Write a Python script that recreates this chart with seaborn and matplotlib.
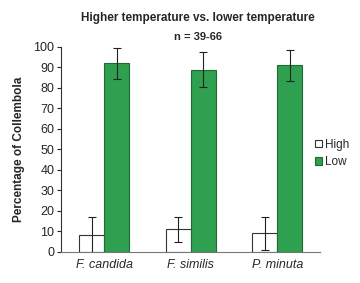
import numpy as np
import pandas as pd
import matplotlib
matplotlib.use('Agg')
import matplotlib.pyplot as plt
import seaborn as sns

species = ['F. candida', 'F. similis', 'P. minuta']
high = [8, 11, 9]
low = [92, 89, 91]
high_err = [9, 6, 8]
low_err = [7.5, 8.5, 7.5]

df = pd.DataFrame({
    'species': species * 2,
    'temp': ['High'] * 3 + ['Low'] * 3,
    'pct': high + low,
})

sns.set_style('white')
plt.rcParams['font.family'] = ['Liberation Sans', 'DejaVu Sans']

fig = plt.figure(figsize=(3.6, 2.83), dpi=100)
ax = fig.add_axes([0.17, 0.11, 0.72, 0.724])

sns.barplot(data=df, x='species', y='pct', hue='temp', palette=['white', '#2ea04f'],
            saturation=1, edgecolor='#333333', linewidth=0.8, width=0.58,
            errorbar=None, ax=ax)

# green bars get a dark green edge
for p in ax.patches[3:6]:
    p.set_edgecolor('#1f6b35')

# error bars
errs = high_err + low_err
for p, e in zip(ax.patches[:6], errs):
    cx = p.get_x() + p.get_width() / 2
    ax.errorbar(cx, p.get_height(), yerr=e, color='#222222', lw=0.8, capsize=3, capthick=0.8)

ax.set_ylim(0, 100)
ax.set_xlim(-0.5, 2.5)
ax.set_yticks(range(0, 101, 10))
ax.tick_params(axis='y', labelsize=9, length=3, left=True, pad=2)
ax.tick_params(axis='x', labelsize=9, length=0, pad=5)
for lab in ax.get_xticklabels():
    lab.set_style('italic')
ax.set_xlabel('')
ax.set_ylabel('Percentage of Collembola', fontsize=8.5, fontweight='bold', labelpad=6)
ax.spines['top'].set_visible(False)
ax.spines['right'].set_visible(False)
ax.spines['left'].set_color('#333333')
ax.spines['bottom'].set_color('#777777')

leg = ax.legend(loc='center left', bbox_to_anchor=(0.98, 0.48), frameon=False, fontsize=8.5,
                handlelength=0.55, handleheight=0.55, handletextpad=0.3, labelspacing=0.45,
                borderaxespad=0, borderpad=0)
leg.get_patches()[1].set_edgecolor('#1f6b35')

fig.text(0.55, 0.925, 'Higher temperature vs. lower temperature', ha='center',
         fontsize=8.5, fontweight='bold')
fig.text(0.55, 0.86, 'n = 39-66', ha='center', fontsize=8, fontweight='bold')

fig.savefig('out.png', dpi=100)
